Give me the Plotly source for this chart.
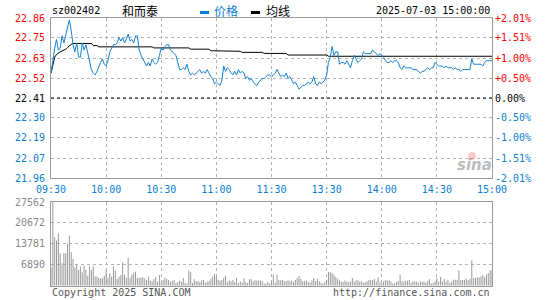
import plotly.graph_objects as go

# ---------------- data ----------------
code = "sz002402"
name = "和而泰"
stamp = "2025-07-03 15:00:00"
prev_close = 22.41

pct_ticks = [-2.01, -1.51, -1.00, -0.50, 0.00, 0.50, 1.00, 1.51, 2.01]
price_labels = ["21.96", "22.07", "22.19", "22.30", "22.41", "22.52", "22.63", "22.75", "22.86"]
pct_labels = ["-2.01%", "-1.51%", "-1.00%", "-0.50%", "0.00%", "+0.50%", "+1.00%", "+1.51%", "+2.01%"]

vol_ticks = [6890, 13781, 20672, 27562]
vol_labels = ["6890", "13781", "20672", "27562"]

time_ticks = ["09:30", "10:00", "10:30", "11:00", "11:30", "13:30", "14:00", "14:30", "15:00"]

prices = [
    22.55, 22.63, 22.69, 22.74, 22.68, 22.69, 22.76, 22.72, 22.77, 22.82,
    22.85, 22.79, 22.71, 22.67, 22.72, 22.64, 22.64, 22.72, 22.68, 22.71,
    22.66, 22.60, 22.57, 22.55, 22.54, 22.56, 22.59, 22.61, 22.63, 22.60,
    22.59, 22.62, 22.67, 22.69, 22.71, 22.71, 22.72, 22.75, 22.73, 22.75,
    22.72, 22.74, 22.77, 22.73, 22.74, 22.72, 22.76, 22.76, 22.68, 22.65,
    22.63, 22.61, 22.59, 22.61, 22.59, 22.63, 22.61, 22.60, 22.61, 22.65,
    22.69, 22.68, 22.70, 22.71, 22.71, 22.68, 22.67, 22.66, 22.65, 22.61,
    22.57, 22.57, 22.58, 22.57, 22.60, 22.56, 22.54, 22.55, 22.54, 22.55,
    22.56, 22.57, 22.55, 22.56, 22.55, 22.57, 22.55, 22.53, 22.52, 22.49,
    22.50, 22.49, 22.48, 22.51, 22.59, 22.56, 22.58, 22.57, 22.55, 22.54,
    22.56, 22.54, 22.57, 22.55, 22.56, 22.55, 22.52, 22.53, 22.51, 22.52,
    22.50, 22.49, 22.48, 22.50, 22.51, 22.52, 22.52, 22.53, 22.54, 22.54,
    22.53,
    22.54, 22.55, 22.57, 22.55, 22.53, 22.54, 22.53, 22.55, 22.52, 22.53,
    22.51, 22.49, 22.50, 22.48, 22.46, 22.47, 22.48, 22.48, 22.49, 22.50,
    22.49, 22.50, 22.53, 22.49, 22.48, 22.50, 22.49, 22.50, 22.51, 22.54,
    22.61, 22.64, 22.70, 22.65, 22.67, 22.67, 22.60, 22.61, 22.61, 22.60,
    22.62, 22.60, 22.58, 22.62, 22.65, 22.63, 22.61, 22.62, 22.63, 22.67,
    22.66, 22.66, 22.66, 22.66, 22.68, 22.67, 22.66, 22.65, 22.66, 22.65,
    22.64, 22.62, 22.61, 22.61, 22.62, 22.61, 22.62, 22.62, 22.61, 22.58,
    22.57, 22.59, 22.58, 22.58, 22.58, 22.58, 22.57, 22.57, 22.57, 22.56,
    22.55, 22.56, 22.56, 22.57, 22.58, 22.57, 22.58, 22.58, 22.61, 22.60,
    22.59, 22.59, 22.59, 22.58, 22.59, 22.58, 22.58, 22.58, 22.57, 22.58,
    22.57, 22.57, 22.56, 22.57, 22.57, 22.57, 22.57, 22.57, 22.63, 22.60,
    22.60, 22.60, 22.60, 22.60, 22.59, 22.61, 22.62, 22.62, 22.62, 22.62,
]

avg_prices = [
    22.550, 22.600, 22.640, 22.655, 22.665, 22.670, 22.675, 22.680, 22.685, 22.695,
    22.705, 22.712, 22.717, 22.717, 22.717, 22.717, 22.717, 22.717, 22.717, 22.717,
    22.717, 22.717, 22.717, 22.705, 22.705, 22.705, 22.698, 22.698, 22.698, 22.698,
    22.698, 22.698, 22.698, 22.698, 22.698, 22.698, 22.698, 22.698, 22.698, 22.698,
    22.698, 22.698, 22.698, 22.698, 22.698, 22.698, 22.698, 22.698, 22.698, 22.698,
    22.698, 22.698, 22.698, 22.698, 22.698, 22.698, 22.692, 22.692, 22.692, 22.692,
    22.692, 22.692, 22.692, 22.692, 22.692, 22.692, 22.692, 22.692, 22.692, 22.692,
    22.692, 22.692, 22.692, 22.692, 22.692, 22.692, 22.685, 22.685, 22.685, 22.685,
    22.685, 22.685, 22.685, 22.685, 22.685, 22.685, 22.685, 22.676, 22.676, 22.676,
    22.676, 22.676, 22.676, 22.676, 22.676, 22.676, 22.673, 22.673, 22.673, 22.673,
    22.673, 22.673, 22.673, 22.673, 22.667, 22.667, 22.667, 22.667, 22.667, 22.667,
    22.667, 22.667, 22.667, 22.667, 22.667, 22.667, 22.661, 22.661, 22.661, 22.661,
    22.661,
    22.661, 22.661, 22.661, 22.661, 22.661, 22.661, 22.661, 22.661, 22.652, 22.652,
    22.652, 22.652, 22.652, 22.652, 22.652, 22.652, 22.652, 22.652, 22.652, 22.652,
    22.652, 22.652, 22.652, 22.652, 22.652, 22.652, 22.652, 22.652, 22.652, 22.652,
    22.645, 22.645, 22.645, 22.645, 22.645, 22.645, 22.645, 22.645, 22.645, 22.645,
    22.645, 22.645, 22.645, 22.645, 22.645, 22.645, 22.645, 22.645, 22.645, 22.645,
    22.645, 22.645, 22.645, 22.645, 22.645, 22.645, 22.645, 22.645, 22.645, 22.645,
    22.645, 22.645, 22.645, 22.645, 22.645, 22.645, 22.645, 22.645, 22.645, 22.645,
    22.645, 22.645, 22.645, 22.645, 22.645, 22.645, 22.645, 22.645, 22.645, 22.645,
    22.645, 22.645, 22.645, 22.645, 22.645, 22.645, 22.645, 22.645, 22.645, 22.645,
    22.645, 22.645, 22.645, 22.645, 22.645, 22.645, 22.645, 22.645, 22.645, 22.645,
    22.645, 22.645, 22.645, 22.645, 22.645, 22.645, 22.645, 22.645, 22.645, 22.645,
    22.645, 22.645, 22.645, 22.645, 22.645, 22.645, 22.645, 22.645, 22.645, 22.645,
]

volumes = [
    5900, 27562, 16000, 14900, 17300, 10700, 7400, 10700, 10700, 13800,
    16500, 11000, 8800, 6000, 6800, 5200, 6300, 4400, 6600, 5200,
    3300, 6300, 5200, 6300, 3000, 3000, 2500, 2400, 2500, 3300,
    5200, 2500, 4100, 3000, 6300, 4900, 2200, 3000, 3500, 7600,
    3600, 2600, 9150, 2600, 3600, 4300, 4600, 2500, 2500, 2700,
    2700, 2400, 1800, 3000, 1700, 1500, 2200, 2900, 1300, 3500,
    1100, 1800, 2600, 2200, 1900, 1300, 1600, 2000, 900, 1200,
    1700, 1300, 2500, 1000, 700, 5000, 4400, 1000, 2100, 1500,
    1500, 1200, 1800, 1900, 1000, 1400, 1500, 2200, 3000, 3900,
    3300, 2000, 1600, 1900, 2500, 3300, 1200, 1800, 1500, 1900,
    1100, 2500, 800, 1500, 1000, 2400, 1200, 900, 2100, 2100,
    1400, 1800, 1700, 1700, 1700, 1500, 700, 700, 1300, 700,
    1500,
    3600, 1000, 3600, 1800, 1800, 2000, 1500, 1500, 1800, 1500,
    1700, 1200, 2000, 2600, 3200, 2200, 1500, 1500, 1600, 1200,
    1000, 1700, 2500, 1500, 2200, 1500, 1000, 700, 1200, 2000,
    4500, 4400, 4200, 3600, 2900, 2300, 1700, 1400, 1200, 1700,
    1300, 1200, 1400, 2500, 1300, 1600, 1800, 1300, 1500, 1000,
    1200, 1500, 1900, 1900, 1900, 2200, 1400, 2800, 1100, 800,
    1500, 1800, 1700, 1800, 1400, 700, 700, 1200, 1500, 3700,
    1500, 1400, 1600, 1600, 1900, 1000, 1500, 1400, 1400, 900,
    1500, 1200, 1400, 1000, 1600, 2100, 700, 1000, 1400, 2600,
    1300, 2900, 1500, 2200, 1300, 2000, 1000, 1300, 2000, 2000,
    2000, 5000, 1900, 1900, 2000, 2400, 1800, 2300, 8300, 2500,
    2500, 2700, 2700, 3000, 3500, 2900, 3800, 4200, 5100, 5100,
]

# minute categories: 09:30..11:30, 13:01..15:00
times = []
for m in range(9 * 60 + 30, 11 * 60 + 31):
    times.append(f"{m // 60:02d}:{m % 60:02d}")
for m in range(13 * 60 + 1, 15 * 60 + 1):
    times.append(f"{m // 60:02d}:{m % 60:02d}")

# ---------------- styling ----------------
W, H = 545, 300
BLUE = "#0b7fd4"
LINE_BLUE = "#1581d0"
RED = "#ff0000"
GRID = "#b4b4b4"
BORDER = "#9a9a9a"
MONO = "DejaVu Sans Mono"
CJK = "Noto Sans CJK SC"


def px_x(x):
    return x / W


def px_y(y):
    return 1 - y / H


def col(p):
    return RED if p > 0 else ("#000000" if p == 0 else BLUE)


tickvals = [prev_close * (1 + p / 100) for p in pct_ticks]
left_text = [f"<span style='color:{col(p)}'>{t}</span>" for p, t in zip(pct_ticks, price_labels)]
right_text = [f"<span style='color:{col(p)}'>{t}</span>" for p, t in zip(pct_ticks, pct_labels)]
yrange = [prev_close * (1 + pct_ticks[0] / 100), prev_close * (1 + pct_ticks[-1] / 100)]

fig = go.Figure()

fig.add_trace(go.Bar(x=times, y=volumes, xaxis="x2", yaxis="y3",
                     marker=dict(color="#9a9a9a", line=dict(width=0)), width=0.55,
                     hoverinfo="skip"))
fig.add_trace(go.Scatter(x=[times[0], times[-1]], y=[prev_close, prev_close],
                         xaxis="x", yaxis="y2", mode="lines",
                         line=dict(color="#000000", width=1, dash="3px,3px"), hoverinfo="skip"))
fig.add_trace(go.Scatter(x=times, y=avg_prices, xaxis="x", yaxis="y", mode="lines",
                         line=dict(color="#000000", width=1), hoverinfo="skip"))
fig.add_trace(go.Scatter(x=times, y=prices, xaxis="x", yaxis="y", mode="lines",
                         line=dict(color=LINE_BLUE, width=1), hoverinfo="skip"))

xdom = [px_x(51), px_x(492)]
axis_common = dict(showgrid=True, gridcolor=GRID, griddash="dot", gridwidth=1,
                   showline=True, linecolor=BORDER, linewidth=1, mirror=True,
                   ticks="", zeroline=False, fixedrange=True, automargin=False)

fig.update_layout(
    width=W, height=H, autosize=False,
    margin=dict(l=0, r=0, t=0, b=0, autoexpand=False),
    paper_bgcolor="white", plot_bgcolor="white",
    showlegend=False,
    xaxis=dict(domain=xdom, anchor="y", type="category", categoryorder="array",
               categoryarray=times, range=[0, 240],
               tickvals=time_ticks, ticktext=time_ticks,
               tickfont=dict(family=MONO, size=10, color=BLUE), tickangle=0,
               ticklabelstandoff=2, **axis_common),
    yaxis=dict(domain=[px_y(178), px_y(18)], anchor="x", range=yrange,
               tickvals=tickvals, ticktext=left_text,
               tickfont=dict(family=MONO, size=10, color="#000"),
               ticklabelstandoff=3, **axis_common),
    yaxis2=dict(overlaying="y", side="right", anchor="x", range=yrange,
                tickvals=tickvals, ticktext=right_text, showgrid=False,
                showline=False, ticks="", zeroline=False, automargin=False,
                tickfont=dict(family=MONO, size=10, color="#000"),
                ticklabelstandoff=2, fixedrange=True),
    xaxis2=dict(domain=xdom, anchor="y3", type="category", categoryorder="array",
                categoryarray=times, range=[0, 240],
                tickvals=time_ticks, showticklabels=False, **axis_common),
    yaxis3=dict(domain=[px_y(285.7), px_y(202)], anchor="x2", range=[0, vol_ticks[-1]],
                tickvals=vol_ticks, ticktext=vol_labels,
                tickfont=dict(family=MONO, size=10, color="#8a8a8a"),
                ticklabelstandoff=3, **axis_common),
)

ann = []
ann.append(dict(text=code, x=px_x(50), y=px_y(11), xanchor="left", yanchor="middle",
                font=dict(family=MONO, size=10, color="#000")))
ann.append(dict(text=name, x=px_x(120), y=px_y(11), xanchor="left", yanchor="middle",
                font=dict(family=CJK, size=12, color="#000")))
ann.append(dict(text="价格", x=px_x(212), y=px_y(11), xanchor="left", yanchor="middle",
                font=dict(family=CJK, size=12, color=BLUE)))
ann.append(dict(text="均线", x=px_x(264), y=px_y(11), xanchor="left", yanchor="middle",
                font=dict(family=CJK, size=12, color="#000")))
ann.append(dict(text=stamp, x=px_x(492), y=px_y(11), xanchor="right", yanchor="middle",
                font=dict(family=MONO, size=10, color="#000")))
ann.append(dict(text="Copyright 2025 SINA.COM", x=px_x(50), y=px_y(292), xanchor="left",
                yanchor="middle", font=dict(family=MONO, size=10, color="#555")))
ann.append(dict(text="http://finance.sina.com.cn", x=px_x(492), y=px_y(292), xanchor="right",
                yanchor="middle", font=dict(family=MONO, size=10, color="#555")))
ann.append(dict(text="sina", x=px_x(474), y=px_y(165), xanchor="center", yanchor="middle",
                font=dict(family="DejaVu Sans", size=15, color="rgba(130,130,130,0.55)",
                          style="italic", weight="bold")))
for a in ann:
    a.update(xref="paper", yref="paper", showarrow=False)
fig.update_layout(annotations=ann)

# legend swatches and faint logo eye (decoration)
fig.add_shape(type="line", xref="paper", yref="paper", x0=px_x(200), x1=px_x(209),
              y0=px_y(12.5), y1=px_y(12.5), line=dict(color=BLUE, width=3))
fig.add_shape(type="line", xref="paper", yref="paper", x0=px_x(251), x1=px_x(260),
              y0=px_y(12.5), y1=px_y(12.5), line=dict(color="#000", width=3))
fig.add_shape(type="circle", xref="paper", yref="paper", x0=px_x(468), x1=px_x(476),
              y0=px_y(160), y1=px_y(152), line=dict(width=0),
              fillcolor="rgba(255,80,80,0.3)")

fig.write_html("out.html", config={"displayModeBar": False, "staticPlot": True},
               post_script="document.body.style.margin='0px';document.body.style.overflow='hidden';")
